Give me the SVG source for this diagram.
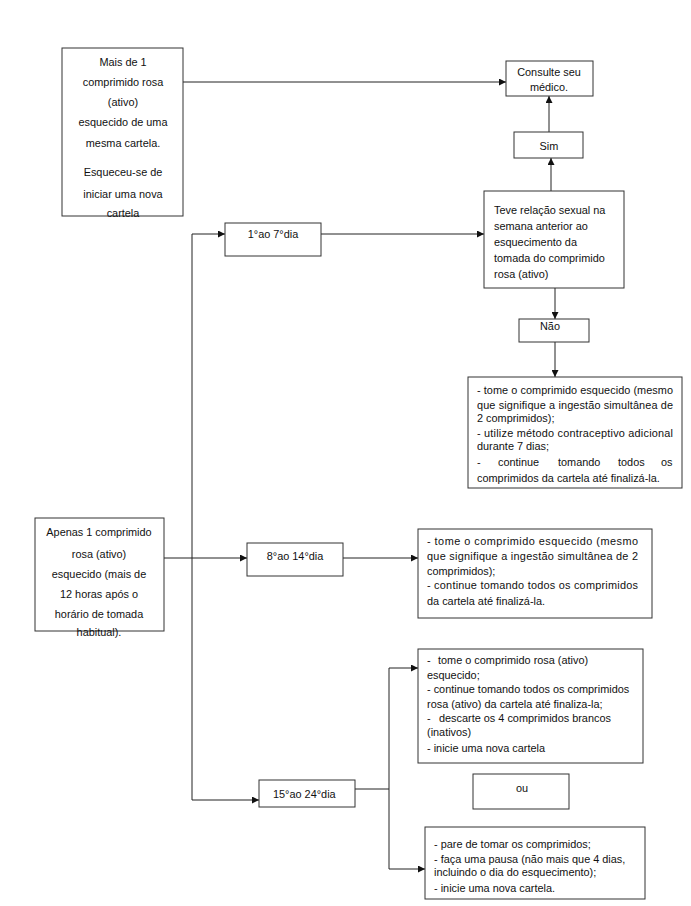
<svg xmlns="http://www.w3.org/2000/svg" width="691" height="906" viewBox="0 0 691 906">
<style>
.box{fill:#fff;stroke:#333;stroke-width:1}
.ln{fill:none;stroke:#222;stroke-width:1}
text{font-family:"Liberation Sans",Arial,sans-serif;font-size:10.9px;fill:#111}
.c{text-anchor:middle}
</style>
<defs>
<marker id="ah" viewBox="0 0 10 10" refX="10" refY="5" markerWidth="7" markerHeight="7" markerUnits="userSpaceOnUse" orient="auto">
<path d="M0,0 L10,5 L0,10 z" fill="#111"/>
</marker>
</defs>
<rect width="691" height="906" fill="#fff"/>

<g id="connectors">
<line class="ln" x1="183" y1="82" x2="506" y2="82" marker-end="url(#ah)"/>
<line class="ln" x1="549" y1="132" x2="549" y2="96" marker-end="url(#ah)"/>
<line class="ln" x1="551" y1="191" x2="551" y2="158" marker-end="url(#ah)"/>
<line class="ln" x1="321" y1="234" x2="484" y2="234" marker-end="url(#ah)"/>
<polyline class="ln" points="192,800 192,234 225,234" marker-end="url(#ah)"/>
<line class="ln" x1="555" y1="288" x2="555" y2="319" marker-end="url(#ah)"/>
<line class="ln" x1="555" y1="342" x2="555" y2="377" marker-end="url(#ah)"/>
<line class="ln" x1="164" y1="558" x2="247" y2="558" marker-end="url(#ah)"/>
<line class="ln" x1="343" y1="558" x2="418" y2="558" marker-end="url(#ah)"/>
<line class="ln" x1="192" y1="800" x2="259" y2="800" marker-end="url(#ah)"/>
<line class="ln" x1="355" y1="789" x2="389" y2="789"/>
<polyline class="ln" points="389,668 389,869 425,869" marker-end="url(#ah)"/>
<line class="ln" x1="389" y1="668" x2="418" y2="668" marker-end="url(#ah)"/>
</g>

<g id="n-mais">
<rect class="box" x="62" y="48" width="121" height="168"/>
<text class="c" x="123" y="66">Mais de 1</text>
<text class="c" x="123" y="86">comprimido rosa</text>
<text class="c" x="123" y="106">(ativo)</text>
<text class="c" x="123" y="126">esquecido de uma</text>
<text class="c" x="123" y="147">mesma cartela.</text>
<text class="c" x="123" y="176">Esqueceu-se de</text>
<text class="c" x="123" y="198">iniciar uma nova</text>
<text class="c" x="123" y="217">cartela</text>
</g>

<g id="n-consulte">
<rect class="box" x="506" y="61" width="87" height="35"/>
<text class="c" x="549" y="76">Consulte seu</text>
<text class="c" x="549" y="91">médico.</text>
</g>

<g id="n-sim">
<rect class="box" x="514" y="132" width="69" height="26"/>
<text class="c" x="549" y="150">Sim</text>
</g>

<g id="n-teve">
<rect class="box" x="484" y="191" width="140" height="97"/>
<text x="494" y="214">Teve relação sexual na</text>
<text x="494" y="230">semana anterior ao</text>
<text x="494" y="246">esquecimento da</text>
<text x="494" y="262">tomada do comprimido</text>
<text x="494" y="278">rosa (ativo)</text>
</g>

<g id="n-d1">
<rect class="box" x="225" y="223" width="96" height="33"/>
<text class="c" x="273" y="238">1°ao 7°dia</text>
</g>

<g id="n-nao">
<rect class="box" x="519" y="319" width="70" height="23"/>
<text class="c" x="550" y="330">Não</text>
</g>

<g id="n-nao-acao">
<rect class="box" x="468" y="377" width="214" height="111"/>
<text x="477" y="394" textLength="196" lengthAdjust="spacing">- tome o comprimido esquecido (mesmo</text>
<text x="477" y="409" textLength="196" lengthAdjust="spacing">que signifique a ingestão simultânea de</text>
<text x="477" y="422">2 comprimidos);</text>
<text x="477" y="437" textLength="196" lengthAdjust="spacing">- utilize método contraceptivo adicional</text>
<text x="477" y="450">durante 7 dias;</text>
<text y="466"><tspan x="477">-</tspan><tspan x="498">continue</tspan><tspan x="558">tomando</tspan><tspan x="618">todos</tspan><tspan x="661">os</tspan></text>
<text x="477" y="482">comprimidos da cartela até finalizá-la.</text>
</g>

<g id="n-apenas">
<rect class="box" x="35" y="518" width="129" height="113"/>
<text class="c" x="99" y="536">Apenas 1 comprimido</text>
<text class="c" x="99" y="558">rosa (ativo)</text>
<text class="c" x="99" y="578">esquecido (mais de</text>
<text class="c" x="99" y="598">12 horas após o</text>
<text class="c" x="99" y="618">horário de tomada</text>
<text class="c" x="99" y="636">habitual).</text>
</g>

<g id="n-d8">
<rect class="box" x="247" y="543" width="96" height="33"/>
<text class="c" x="295" y="560">8°ao 14°dia</text>
</g>

<g id="n-d8-acao">
<rect class="box" x="418" y="529" width="234" height="89"/>
<text x="427" y="545" textLength="211" lengthAdjust="spacing">- tome o comprimido esquecido (mesmo</text>
<text x="427" y="560" textLength="211" lengthAdjust="spacing">que signifique a ingestão simultânea de 2</text>
<text x="427" y="575">comprimidos);</text>
<text x="427" y="589" textLength="211" lengthAdjust="spacing">- continue tomando todos os comprimidos</text>
<text x="427" y="605">da cartela até finalizá-la.</text>
</g>

<g id="n-d15">
<rect class="box" x="259" y="780" width="96" height="27"/>
<text x="273" y="798">15°ao 24°dia</text>
</g>

<g id="n-d15-a">
<rect class="box" x="418" y="649" width="225" height="114"/>
<text y="664"><tspan x="427">-</tspan><tspan x="438">tome o comprimido rosa (ativo)</tspan></text>
<text x="427" y="679">esquecido;</text>
<text x="427" y="693">- continue tomando todos os comprimidos</text>
<text x="427" y="708">rosa (ativo) da cartela até finaliza-la;</text>
<text y="722"><tspan x="427">-</tspan><tspan x="439">descarte os 4 comprimidos brancos</tspan></text>
<text x="427" y="736">(inativos)</text>
<text x="427" y="752">- inicie uma nova cartela</text>
</g>

<g id="n-ou">
<rect class="box" x="473" y="774" width="96" height="35"/>
<text class="c" x="522" y="792">ou</text>
</g>

<g id="n-d15-b">
<rect class="box" x="425" y="827" width="220" height="72"/>
<text x="434" y="848">- pare de tomar os comprimidos;</text>
<text x="434" y="863">- faça uma pausa (não mais que 4 dias,</text>
<text x="434" y="876">incluindo o dia do esquecimento);</text>
<text x="434" y="892">- inicie uma nova cartela.</text>
</g>
</svg>
